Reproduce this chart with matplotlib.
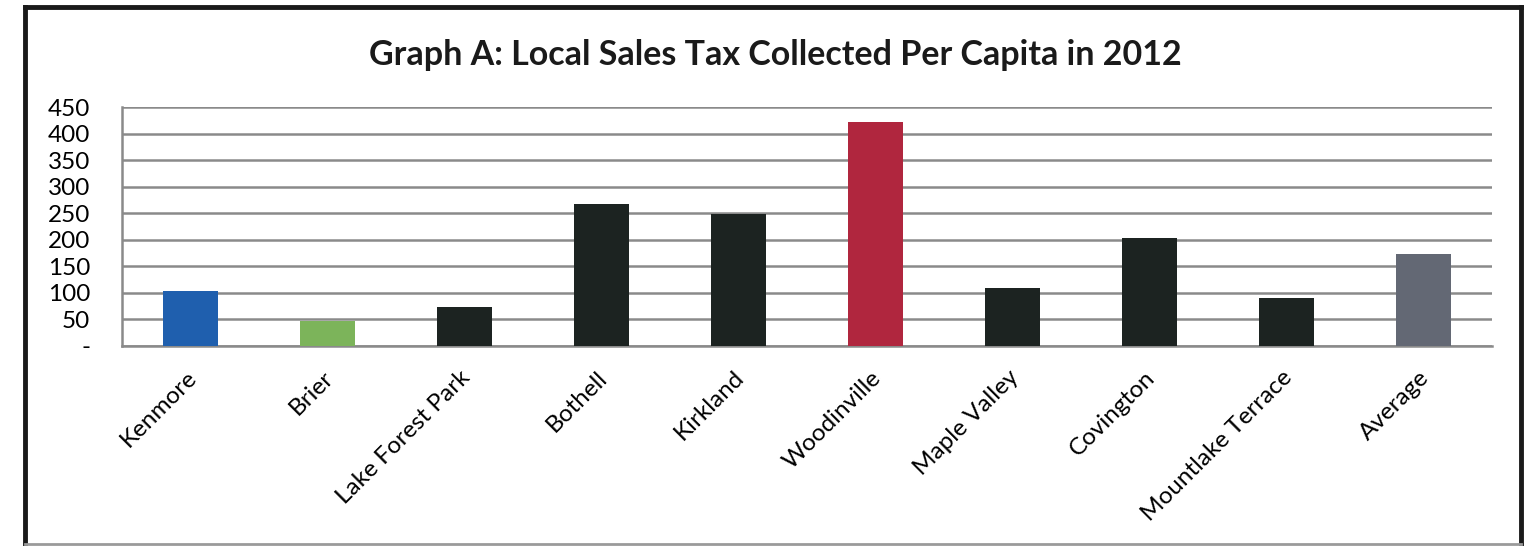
import matplotlib.pyplot as plt
from matplotlib.lines import Line2D
import matplotlib.transforms as mtransforms

# Dữ liệu
cities = ["Kenmore", "Brier", "Lake Forest Park", "Bothell", "Kirkland",
          "Woodinville", "Maple Valley", "Covington", "Mountlake Terrace", "Average"]
tax_per_capita = [103, 48, 74, 268, 249, 422, 109, 203, 91, 174]
bar_colors = ["#1f5fae", "#7cb45a", "#1c2321", "#1c2321", "#1c2321",
              "#b0263e", "#1c2321", "#1c2321", "#1c2321", "#636874"]
y_ticks = [0, 50, 100, 150, 200, 250, 300, 350, 400, 450]
y_tick_labels = ["-", "50", "100", "150", "200", "250", "300", "350", "400", "450"]

plt.rcParams['font.family'] = ['Lato', 'DejaVu Sans']

fig = plt.figure(figsize=(15.36, 5.46), dpi=100)
ax = fig.add_axes([122 / 1536, 200 / 546, 1370 / 1536, 239 / 546])

x = range(len(cities))
ax.bar(x, tax_per_capita, width=0.4, color=bar_colors, zorder=3)

ax.set_xlim(-0.5, len(cities) - 0.5)
ax.set_ylim(0, 450)
ax.set_yticks(y_ticks)
ax.set_yticklabels(y_tick_labels, fontsize=17.5)
ax.yaxis.grid(True, color="#8a8a8a", linewidth=1.8, zorder=0)
ax.tick_params(axis='y', length=0, pad=23)
ax.tick_params(axis='x', length=0, pad=15)

ax.set_xticks(list(x))
ax.set_xticklabels(cities, fontsize=17.5, rotation=45, ha='right',
                   rotation_mode='anchor')
offset = mtransforms.ScaledTranslation(-5 / 100, 0, fig.dpi_scale_trans)
for lbl in ax.get_xticklabels():
    lbl.set_transform(lbl.get_transform() + offset)

for side in ['top', 'right']:
    ax.spines[side].set_visible(False)
for side in ['left', 'bottom']:
    ax.spines[side].set_color("#8a8a8a")
    ax.spines[side].set_linewidth(1.8)

fig.text(775 / 1536, 1 - 55 / 546, "Graph A: Local Sales Tax Collected Per Capita in 2012",
         ha='center', va='center', fontsize=24.5, fontweight='bold', color="#1a1a1a")

# Khung viền ngoài
fig.add_artist(Line2D([25 / 1536, 25 / 1536], [1 - 544 / 546, 1 - 7 / 546],
                      color="#1a1a1a", linewidth=3.5, transform=fig.transFigure))
fig.add_artist(Line2D([25 / 1536, 1521 / 1536], [1 - 7 / 546, 1 - 7 / 546],
                      color="#1a1a1a", linewidth=3.5, transform=fig.transFigure))
fig.add_artist(Line2D([1521 / 1536, 1521 / 1536], [1 - 544 / 546, 1 - 7 / 546],
                      color="#1a1a1a", linewidth=3.5, transform=fig.transFigure))
fig.add_artist(Line2D([25 / 1536, 1521 / 1536], [1 - 544 / 546, 1 - 544 / 546],
                      color="#9a9a9a", linewidth=2, transform=fig.transFigure))

fig.savefig("out.png", dpi=100)
